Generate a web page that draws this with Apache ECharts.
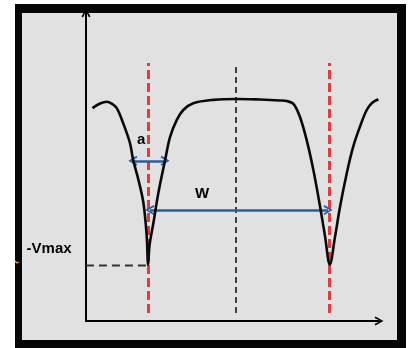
<!DOCTYPE html>
<html>
<head>
<meta charset="utf-8">
<script src="https://cdn.jsdelivr.net/npm/echarts@6/dist/echarts.min.js"></script>
<style>
html,body{margin:0;padding:0;background:#ffffff;}
#chart{width:408px;height:348px;}
</style>
</head>
<body>
<div id="chart"></div>
<script>
// Curve (arbitrary units: x 0..100, y 0..100)
var curveX = [2.2, 4.8, 7.1, 8.9, 10.5, 12.7, 15.0, 16.1, 17.9, 19.6, 20.7, 21.2, 21.7, 23.0, 24.7, 27.0, 28.7, 31.0, 33.2, 36.6, 43.5, 51.4, 59.4, 66.2, 68.5, 70.8, 73.0, 75.3, 77.6, 79.9, 81.6, 83.2, 85.0, 86.7, 89.0, 91.2, 93.5, 95.8, 97.6, 99.8];
var curveY = [69.1, 70.6, 71.2, 70.5, 69.1, 64.2, 57.8, 52.3, 45.8, 38.3, 27.9, 18.3, 24.7, 31.8, 41.6, 52.3, 59.8, 65.3, 68.5, 70.7, 71.8, 72.1, 71.9, 71.6, 71.4, 70.5, 66.3, 58.8, 49.0, 37.1, 27.4, 18.3, 27.4, 37.1, 48.0, 56.6, 63.1, 68.5, 70.8, 72.0];
// Guide lines
var dipX = [21.2, 83.0];
var centerX = [51.2];
var guideTop = 83.8;
var guideBottom = 2.6;
var vmaxLevel = 18.0;
var vmaxLineX = [-8.9, 21.8];
// Dimension arrows
var aArrowX = [16.0, 27.0];
var aArrowY = 52.0;
var wArrowX = [21.8, 82.6];
var wArrowY = 36.0;
// Text labels
var labelTexts = ['-Vmax', 'a', 'W'];
var labelX = [-12.6, 18.8, 39.6];
var labelY = [23.4, 58.8, 41.2];

var curveData = curveX.map(function (x, i) { return [x, curveY[i]]; });
var vmaxData = vmaxLineX.map(function (x) { return [x, vmaxLevel]; });
var chevron = 'path://M5,0 L10,9 L8.4,10 L5,3.2 L1.6,10 L0,9 Z';

var guideLines = [];
dipX.forEach(function (x) {
  guideLines.push([{ coord: [x, guideBottom], lineStyle: { color: '#e43b40', width: 3, type: [9, 4] } }, { coord: [x, guideTop] }]);
});
centerX.forEach(function (x) {
  guideLines.push([{ coord: [x, guideBottom], lineStyle: { color: '#1a1a1a', width: 1.6, type: [6, 4] } }, { coord: [x, guideTop] }]);
});

var arrowLines = [
  [{ coord: [aArrowX[0], aArrowY] }, { coord: [aArrowX[1], aArrowY] }],
  [{ coord: [wArrowX[0], wArrowY] }, { coord: [wArrowX[1], wArrowY] }]
];

var labelData = labelTexts.map(function (t, i) { return { name: t, value: [labelX[i], labelY[i]] }; });

var chart = echarts.init(document.getElementById('chart'), null, { renderer: 'canvas' });
chart.setOption({
  animation: false,
  backgroundColor: '#ffffff',
  graphic: [
    { type: 'rect', z: -10, shape: { x: 15, y: 4, width: 391, height: 344 }, style: { fill: '#050505' } },
    { type: 'rect', z: -9, shape: { x: 22, y: 13, width: 375, height: 327 }, style: { fill: '#e1e1e1' } },
    { type: 'polyline', z: -8, shape: { points: [[15, 261], [17, 263], [19, 262]] }, style: { stroke: '#d9a23a', lineWidth: 1.2, fill: null } }
  ],
  grid: { left: 86, right: 29, top: 13, bottom: 27, containLabel: false },
  xAxis: {
    type: 'value', min: 0, max: 100,
    axisLine: { show: true, onZero: false, symbol: ['none', chevron], symbolSize: [10, 9], lineStyle: { color: '#000000', width: 2 } },
    axisTick: { show: false }, axisLabel: { show: false }, splitLine: { show: false }
  },
  yAxis: {
    type: 'value', min: 0, max: 100,
    axisLine: { show: true, onZero: false, symbol: ['none', chevron], symbolSize: [10, 9], lineStyle: { color: '#000000', width: 2 } },
    axisTick: { show: false }, axisLabel: { show: false }, splitLine: { show: false }
  },
  series: [
    {
      type: 'line', data: vmaxData, showSymbol: false, clip: false, z: 2,
      lineStyle: { color: '#333333', width: 2, type: [8, 5] }
    },
    {
      type: 'line', data: curveData, smooth: 0.35, showSymbol: false, clip: false,
      lineStyle: { color: '#0a0a0a', width: 2.6 }, z: 5,
      markLine: { silent: true, symbol: ['none', 'none'], label: { show: false }, data: guideLines, z: 3 }
    },
    {
      type: 'line', data: [], clip: false, z: 6,
      markLine: {
        silent: true, symbol: [chevron, chevron], symbolSize: [10, 9],
        label: { show: false },
        lineStyle: { color: '#2a5f9e', width: 2.5, type: 'solid' },
        data: arrowLines
      }
    },
    {
      type: 'scatter', data: labelData, symbol: 'circle', symbolSize: 0, clip: false, z: 7,
      itemStyle: { color: '#000000', opacity: 1 },
      label: {
        show: true, position: 'inside', formatter: '{b}', opacity: 1,
        fontFamily: 'Liberation Sans', fontSize: 15, fontWeight: 'bold', color: '#000000'
      }
    }
  ]
});
</script>
</body>
</html>
